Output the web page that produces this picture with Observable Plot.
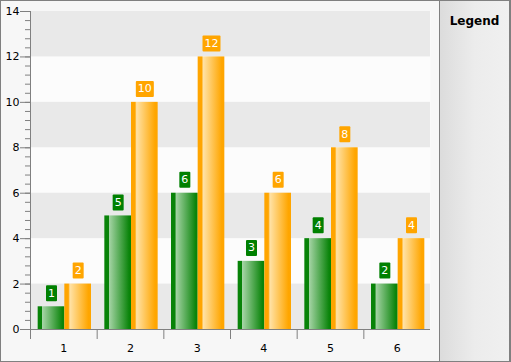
<!DOCTYPE html>
<html>
<head>
<meta charset="utf-8">
<script src="https://cdn.jsdelivr.net/npm/d3@7"></script>
<script src="https://cdn.jsdelivr.net/npm/@observablehq/plot@0.6"></script>
<style>
  body { margin: 0; background: #ffffff; }
  #frame { position: relative; width: 511px; height: 362px; box-sizing: border-box;
    border: 1px solid #808080; border-right-width: 2px; background: #f7f7f7;
    font-family: "DejaVu Sans", Verdana, sans-serif; overflow: hidden; }
  #chart { position: absolute; left: 0; top: 0; }
  #legend { position: absolute; left: 438px; top: 0; width: 70px; height: 360px; box-sizing: border-box;
    border-left: 1px solid #808080;
    background: linear-gradient(to right, #dcdcdc, #ececec 50%, #f0f0f0); }
  #legend .title { font-weight: bold; font-size: 12px; line-height: 14px; text-align: center; margin-top: 13px; color: #000; }
</style>
</head>
<body>
<div id="frame">
  <div id="chart"></div>
  <div id="legend"><div class="title">Legend</div></div>
</div>
<script>
// ---- data ----
const categories = [1, 2, 3, 4, 5, 6];
const greenValues = [1, 5, 6, 3, 4, 2];
const orangeValues = [2, 10, 12, 6, 8, 4];
const yTicks = [0, 2, 4, 6, 8, 10, 12, 14];
const yMinorTicks = d3.range(0, 14.01, 0.4);
const xBoundaries = [0.5, 1.5, 2.5, 3.5, 4.5, 5.5];
const shadedBandStarts = [0, 4, 8, 12];
const bandHeight = 2;

const greenData = categories.map((c, i) => ({ c, v: greenValues[i] }));
const orangeData = categories.map((c, i) => ({ c, v: orangeValues[i] }));

const plot = Plot.plot({
  width: 438,
  height: 360,
  marginLeft: 29,
  marginRight: 9,
  marginTop: 10,
  marginBottom: 32,
  style: { background: "transparent", fontFamily: "DejaVu Sans, Verdana, sans-serif", fontSize: "11px", color: "#000" },
  x: { type: "linear", domain: [0.5, 6.5], axis: null },
  y: { domain: [0, 14], axis: null },
  marks: [
    Plot.frame({ fill: "#fcfcfc", stroke: null }),
    Plot.rect(shadedBandStarts, { x1: 0.5, x2: 6.5, y1: d => d, y2: d => d + bandHeight, fill: "#e9e9e9" }),
    Plot.rect(greenData, { x1: d => d.c - 0.385, x2: d => d.c + 0.015, y1: 0, y2: "v", fill: "url(#gradGreen)" }),
    Plot.rect(orangeData, { x1: d => d.c + 0.015, x2: d => d.c + 0.415, y1: 0, y2: "v", fill: "url(#gradOrange)" }),
    Plot.text(greenData, { x: d => d.c - 0.185, y: "v", text: d => String(d.v), dy: -13.5, fill: "white" }),
    Plot.text(orangeData, { x: d => d.c + 0.215, y: "v", text: d => String(d.v), dy: -13.5, fill: "white" }),
    Plot.axisY({ ticks: yMinorTicks, tickSize: 5, tickFormat: () => "", stroke: "#808080", label: null }),
    Plot.axisY({ ticks: yTicks, tickSize: 10, tickPadding: 1, tickFormat: d => String(d), stroke: "#808080", fill: "#000", label: null }),
    Plot.axisX({ ticks: xBoundaries, tickSize: 10, tickFormat: () => "", stroke: "#808080", label: null }),
    Plot.axisX({ ticks: categories, tickSize: 0, tickPadding: 15, tickFormat: d => String(d), fill: "#000", label: null }),
    Plot.ruleX([0.5], { stroke: "#808080" }),
    Plot.ruleY([0], { stroke: "#808080" })
  ]
});

document.getElementById("chart").append(plot);

const svg = d3.select(plot);
const defs = svg.insert("defs", ":first-child");
function gradient(id, stops) {
  const g = defs.append("linearGradient").attr("id", id)
    .attr("x1", 0).attr("x2", 1).attr("y1", 0).attr("y2", 0);
  stops.forEach(([o, c]) => g.append("stop").attr("offset", o).attr("stop-color", c));
}
gradient("gradGreen", [[0, "#088308"], [0.16, "#088308"], [0.18, "#a5d4a5"], [0.93, "#0a840a"], [1, "#088308"]]);
gradient("gradOrange", [[0, "#ffa500"], [0.15, "#ffa500"], [0.21, "#ffe2a6"], [0.9, "#ffa600"], [1, "#ffa500"]]);

const labelGroups = svg.selectAll('g[fill="white"]').nodes();
const boxColors = ["#008000", "#ffa500"];
labelGroups.forEach((grp, k) => {
  d3.select(grp).selectAll("text").each(function () {
    const b = this.getBBox();
    const w = b.width + 4, h = 16;
    const cx = b.x + b.width / 2, cy = b.y + b.height / 2;
    d3.select(grp).insert("rect", () => this)
      .attr("x", cx - w / 2).attr("y", cy - h / 2)
      .attr("width", w).attr("height", h)
      .attr("rx", 1)
      .attr("fill", boxColors[k])
      .attr("transform", this.getAttribute("transform"));
  });
});
</script>
</body>
</html>
